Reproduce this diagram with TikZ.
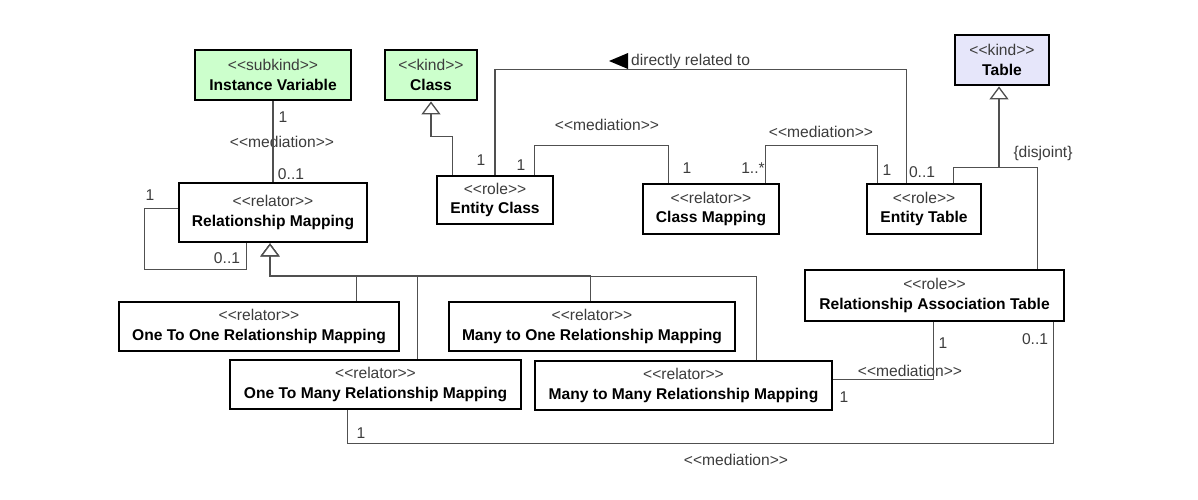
\documentclass[tikz,border=0pt]{standalone}
\usepackage{fontspec}
\setmainfont{Liberation Sans}
\usetikzlibrary{arrows.meta}
\definecolor{kindgreen}{RGB}{204,255,204}
\definecolor{kindblue}{RGB}{230,230,250}
\definecolor{linec}{RGB}{80,80,80}
\definecolor{stc}{RGB}{60,60,60}
\newcommand\stp[1]{{\color{stc}<\kern0pt<#1>\kern0pt>}}
\newcommand\nmb[1]{\textbf{#1}}
\begin{document}
\begin{tikzpicture}[x=1pt,y=-1pt,
  every node/.style={font=\fontsize{15.6}{19.5}\selectfont},
  cls/.style={draw=black, line width=2.8pt, fill=white, align=center, inner sep=0pt},
  conn/.style={draw=linec, line width=1.2pt},
  gen/.style={conn, -{Triangle[open, length=13pt, width=19pt, line width=1.3pt, fill=white]}},
  lbl/.style={text=stc, inner sep=0pt}]
\fill[white] (0,0) rectangle (1198,500);
\useasboundingbox (0,0) rectangle (1198,500);

% classes
\node[cls, fill=kindgreen, minimum width=156pt, minimum height=50pt] (iv) at (273,75) {\stp{subkind}\\\nmb{Instance Variable}};
\node[cls, fill=kindgreen, minimum width=92pt, minimum height=50pt] (cls) at (431,75) {\stp{kind}\\\nmb{Class}};
\node[cls, fill=kindblue, minimum width=94pt, minimum height=50pt] (tbl) at (1002,60) {\stp{kind}\\\nmb{Table}};
\node[cls, minimum width=188pt, minimum height=59pt] (rm) at (273,212.5) {\stp{relator}\\\nmb{Relationship Mapping}};
\node[cls, minimum width=116pt, minimum height=48pt] (ec) at (495,200) {\stp{role}\\\nmb{Entity Class}};
\node[cls, minimum width=136pt, minimum height=50pt] (cm) at (711,209) {\stp{relator}\\\nmb{Class Mapping}};
\node[cls, minimum width=114pt, minimum height=50pt] (et) at (924,209) {\stp{role}\\\nmb{Entity Table}};
\node[cls, minimum width=259pt, minimum height=51pt] (rat) at (934.5,295.5) {\stp{role}\\\nmb{Relationship Association Table}};
\node[cls, minimum width=280pt, minimum height=49pt] (oto) at (259,326.5) {\stp{relator}\\\nmb{One To One Relationship Mapping}};
\node[cls, minimum width=286pt, minimum height=49pt] (mto) at (592,326.5) {\stp{relator}\\\nmb{Many to One Relationship Mapping}};
\node[cls, minimum width=291pt, minimum height=49pt] (otm) at (375.5,384.5) {\stp{relator}\\\nmb{One To Many Relationship Mapping}};
\node[cls, minimum width=297pt, minimum height=49pt] (mtm) at (683.5,385.5) {\stp{relator}\\\nmb{Many to Many Relationship Mapping}};

% labels
\node[lbl] (l1) at (283,117) {1};
\node[lbl] (l2) at (282,142) {\stp{mediation}};
\node[lbl] (l3) at (291,174) {0..1};
\node[lbl, anchor=west] (lrel) at (631,61) {directly related to};
\fill[black] ([xshift=-22pt]lrel.west) -- ++(19,-8) -- ++(0,16) -- cycle;
\node[lbl] (l4) at (481,160) {1};
\node[lbl] (l5) at (922,172) {0..1};
\node[lbl] (l6) at (521,165) {1};
\node[lbl] (l7) at (687,168) {1};
\node[lbl] (l8) at (607,125) {\stp{mediation}};
\node[lbl] (l9) at (753,168) {1..*};
\node[lbl] (l10) at (887,170) {1};
\node[lbl] (l11) at (821,132) {\stp{mediation}};
\node[lbl] (l12) at (1043,153) {\{disjoint\}};
\node[lbl] (l13) at (150,195) {1};
\node[lbl] (l14) at (227,258) {0..1};
\node[lbl] (l15) at (844,397) {1};
\node[lbl] (l16) at (943,343) {1};
\node[lbl] (l17) at (910,371) {\stp{mediation}};
\node[lbl] (l18) at (361,433) {1};
\node[lbl] (l19) at (1035,339) {0..1};
\node[lbl] (l20) at (736,460) {\stp{mediation}};

% connectors
\draw[conn] (iv.south) -- (rm.north);
\draw[gen] ([xshift=17pt]ec.north west) -- ++(0,-38) -| (cls.south);
\draw[conn] (ec.north) -- ++(0,-105) -| ([xshift=41pt]et.north west);
\draw[conn] ([xshift=-20pt]ec.north east) -- ++(0,-29) -| ([xshift=27pt]cm.north west);
\draw[conn] ([xshift=-15pt]cm.north east) -- ++(0,-37) -| ([xshift=12pt]et.north west);
\draw[gen] ([xshift=-29pt]et.north east) -- ++(0,-15) -| ([xshift=-3pt]tbl.south);
\draw[conn] ([xshift=-28pt]rat.north east) -- ++(0,-101) -- ++(-38,0);
\draw[conn] ([yshift=4pt]rm.west) -- ++(-33,0) -- ++(0,61) -| ([xshift=69pt]rm.south west);
\draw[gen] ([xshift=239pt]oto.north west) -- ++(0,-25) -| ([xshift=-3pt]rm.south);
\draw[gen] ([xshift=189pt]otm.north west) -- ++(0,-83) -| ([xshift=-3pt]rm.south);
\draw[gen] ([xshift=143pt]mto.north west) -- ++(0,-25) -| ([xshift=-3pt]rm.south);
\draw[gen] ([xshift=223pt]mtm.north west) -- ++(0,-83) -| ([xshift=-3pt]rm.south);
\draw[conn] ([yshift=6pt]mtm.east) -| ([xshift=130pt]rat.south west);
\draw[conn] ([xshift=119pt]otm.south west) -- ++(0,33) -| ([xshift=-12pt]rat.south east);
\end{tikzpicture}
\end{document}
